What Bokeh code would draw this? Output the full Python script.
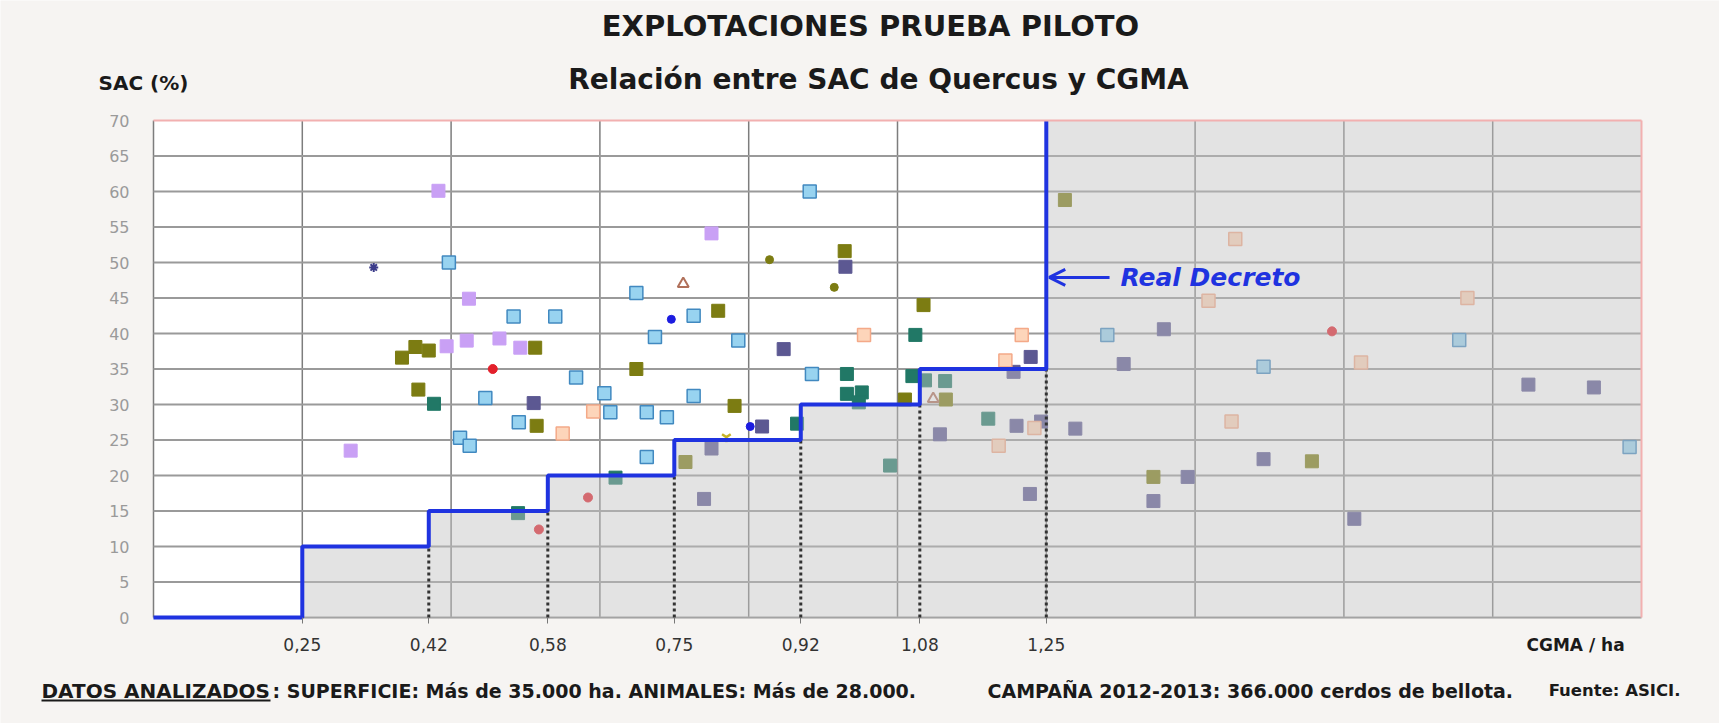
from bokeh.plotting import figure
from bokeh.models import Label, Arrow, OpenHead, FixedTicker, Range1d
from bokeh.embed import file_html
from bokeh.resources import INLINE

# ---------------- data ----------------
step_x = [0.05, 0.25, 0.42, 0.58, 0.75, 0.92, 1.08, 1.25]
step_y = [0, 10, 15, 20, 25, 30, 35, 70]
x_ticks = [0.25, 0.42, 0.58, 0.75, 0.92, 1.08, 1.25]
x_tick_labels = ["0,25", "0,42", "0,58", "0,75", "0,92", "1,08", "1,25"]
y_ticks = [0, 5, 10, 15, 20, 25, 30, 35, 40, 45, 50, 55, 60, 65, 70]

lightblue_x = [0.447, 0.534, 0.590, 0.496, 0.462, 0.475, 0.541, 0.932, 0.699, 0.776, 0.724, 0.836,
               0.618, 0.935, 0.656, 0.664, 0.713, 0.740, 0.776, 0.713, 1.332, 1.542, 1.805, 2.034]
lightblue_y = [50.0, 42.4, 42.4, 30.9, 25.3, 24.2, 27.5, 60.0, 45.7, 42.5, 39.5, 39.0,
               33.8, 34.3, 31.6, 28.9, 28.9, 28.2, 31.2, 22.6, 39.8, 35.3, 39.1, 24.0]

olive_x = [0.384, 0.402, 0.420, 0.406, 0.979, 0.809, 0.563, 0.699, 0.831, 0.565, 0.765,
           1.275, 1.085, 1.060, 1.115, 1.394, 1.607]
olive_y = [36.6, 38.1, 37.6, 32.1, 51.6, 43.2, 38.0, 35.0, 29.8, 27.0, 21.9,
           58.8, 44.0, 30.7, 30.7, 19.8, 22.0]

lilac_x = [0.433, 0.474, 0.444, 0.471, 0.515, 0.543, 0.315, 0.800]
lilac_y = [60.1, 44.9, 38.2, 39.0, 39.3, 38.0, 23.5, 54.1]

slate_x = [0.980, 0.897, 0.561, 0.868, 0.800, 0.790, 1.408, 1.229, 1.354, 1.206, 1.210, 1.243,
           1.107, 1.289, 1.228, 1.542, 1.440, 1.394, 1.898, 1.986, 1.664]
slate_y = [49.4, 37.8, 30.2, 26.9, 23.8, 16.7, 40.6, 36.7, 35.7, 34.6, 27.0, 27.6,
           25.8, 26.6, 17.4, 22.3, 19.8, 16.4, 32.8, 32.4, 13.9]

teal_x = [0.427, 0.540, 0.982, 0.982, 1.002, 0.998, 1.040, 0.671, 0.915, 1.074, 1.070, 1.087, 1.114, 1.172]
teal_y = [30.1, 14.7, 34.3, 31.5, 31.7, 30.3, 21.4, 19.7, 27.3, 39.8, 34.0, 33.4, 33.3, 28.0]

salmon_x = [0.641, 0.600, 1.005, 1.217, 1.195, 1.234, 1.186, 1.504, 1.468, 1.499, 1.816, 1.673]
salmon_y = [29.0, 25.9, 39.8, 39.8, 36.2, 26.7, 24.2, 53.3, 44.6, 27.6, 45.0, 35.9]

red_x = [0.506, 0.634, 0.568, 1.634]
red_y = [35.0, 16.9, 12.4, 40.3]

blue_dot_x = [0.746, 0.852]
blue_dot_y = [42.0, 26.9]

olive_dot_x = [0.878, 0.965]
olive_dot_y = [50.4, 46.5]

triangle_x = [0.762, 1.098]
triangle_y = [47.0, 30.8]

star_x = [0.346]
star_y = [49.3]

yellow_x = [0.820]
yellow_y = [25.4]

grid_x = [0.05, 0.25, 0.45, 0.65, 0.85, 1.05, 1.25, 1.45, 1.65, 1.85]
grid_y = [0, 5, 10, 15, 20, 25, 30, 35, 40, 45, 50, 55, 60, 65]

decreto_y = 47.9
decreto_arrow_from = 1.335

# ---------------- layout helpers (page pixel -> data) ----------------
FL, FT, FW, FH = 153, 120, 1488, 497       # plot area in page pixels
XMIN, XMAX, YMIN, YMAX = 0.05, 2.05, 0, 70
W, H = 1719, 723


def X(px):
    return XMIN + (px - FL) * (XMAX - XMIN) / FW


def Y(py):
    return YMAX - (py - FT) * (YMAX - YMIN) / FH


BLUE = "#1f33e0"
PAGE = "#f6f4f2"

p = figure(width=W, height=H, min_border=0,
           x_range=Range1d(X(0), X(W)), y_range=Range1d(Y(H), Y(0)),
           output_backend="svg", toolbar_location=None, title=None,
           background_fill_color=PAGE, border_fill_color=PAGE)
p.outline_line_color = None
p.grid.visible = False

# plot area
p.quad(left=[XMIN], right=[XMAX], bottom=[YMIN], top=[YMAX], fill_color="white", line_color=None)
p.segment(x0=grid_x, y0=[YMIN] * len(grid_x), x1=grid_x, y1=[YMAX] * len(grid_x),
          line_color="#7d7d7d", line_width=1.5)
p.segment(x0=[XMIN] * len(grid_y), y0=grid_y, x1=[XMAX] * len(grid_y), y1=grid_y,
          line_color="#9a9a9a", line_width=2)

# axes (drawn at fixed locations)
p.yaxis.fixed_location = XMIN
p.yaxis.bounds = (YMIN, YMAX)
p.yaxis.ticker = FixedTicker(ticks=y_ticks)
p.yaxis.axis_line_color = None
p.yaxis.major_tick_line_color = None
p.yaxis.minor_tick_line_color = None
p.yaxis.major_label_text_color = "#9a9a9a"
p.yaxis.major_label_text_font = "DejaVu Sans"
p.yaxis.major_label_text_font_size = "16px"
p.yaxis.major_label_standoff = 18

p.xaxis.fixed_location = YMIN
p.xaxis.bounds = (XMIN, XMAX)
p.xaxis.ticker = FixedTicker(ticks=x_ticks)
p.xaxis.major_label_overrides = dict(zip(x_ticks, x_tick_labels))
p.xaxis.axis_line_color = None
p.xaxis.major_tick_line_color = "#777777"
p.xaxis.major_tick_in = 0
p.xaxis.major_tick_out = 6
p.xaxis.minor_tick_line_color = None
p.xaxis.major_label_text_color = "#333333"
p.xaxis.major_label_text_font = "DejaVu Sans"
p.xaxis.major_label_text_font_size = "17px"
p.xaxis.major_label_standoff = 14

# markers
sq = dict(marker="square", size=13)
p.scatter(lightblue_x, lightblue_y, fill_color="#98d3f0", line_color="#4189c0", line_width=1.5, **sq)
p.scatter(olive_x, olive_y, fill_color="#7c7c12", line_color="#7c7c12", **sq)
p.scatter(lilac_x, lilac_y, fill_color="#c9a0f5", line_color="#c9a0f5", **sq)
p.scatter(slate_x, slate_y, fill_color="#5c5892", line_color="#5c5892", **sq)
p.scatter(teal_x, teal_y, fill_color="#217866", line_color="#217866", **sq)
p.scatter(salmon_x, salmon_y, fill_color="#fdd5ba", line_color="#f4a988", line_width=1.5, **sq)
p.scatter(red_x, red_y, marker="circle", size=9, fill_color="#e3202b", line_color="#e3202b")
p.scatter(blue_dot_x, blue_dot_y, marker="circle", size=8, fill_color="#1c1ce0", line_color="#1c1ce0")
p.scatter(olive_dot_x, olive_dot_y, marker="circle", size=8, fill_color="#7c7c12", line_color="#7c7c12")
p.scatter(triangle_x, triangle_y, marker="triangle", size=11, fill_color=None, line_color="#b0705a", line_width=2)
p.scatter(star_x, star_y, marker="asterisk", size=9, line_color="#3c3c8a", line_width=2)
p.scatter(yellow_x, yellow_y, marker="y", size=10, line_color="#c8b428", line_width=2.5)

# shaded (semi-transparent) region under the step curve and right of 1,25
poly_x = [step_x[0]]
poly_y = [0]
for i in range(len(step_x) - 1):
    poly_x += [step_x[i], step_x[i + 1]]
    poly_y += [step_y[i], step_y[i]]
poly_x += [step_x[-1], XMAX, XMAX]
poly_y += [step_y[-1], YMAX, 0]
p.patch(poly_x, poly_y, fill_color="#c2c2c2", fill_alpha=0.46, line_color=None)

# dotted verticals and step line
p.segment(x0=step_x[2:], y0=[0] * len(step_x[2:]), x1=step_x[2:], y1=step_y[1:-1],
          line_color="#333333", line_width=3, line_dash="3 3")
p.step(step_x, step_y, mode="after", line_color=BLUE, line_width=4)

# pink top / right borders
p.segment(x0=[XMIN, XMAX], y0=[YMAX, YMIN], x1=[XMAX, XMAX], y1=[YMAX, YMAX],
          line_color="#f2b0b0", line_width=2)

# Real Decreto annotation
p.add_layout(Arrow(x_start=decreto_arrow_from, y_start=decreto_y, x_end=step_x[-1] + 0.004, y_end=decreto_y,
                   line_color=BLUE, line_width=3,
                   end=OpenHead(size=16, line_color=BLUE, line_width=3)))
p.add_layout(Label(x=X(1120), y=decreto_y, text="Real Decreto", text_font="DejaVu Sans",
                   text_font_style="bold italic", text_font_size="25px", text_color=BLUE,
                   text_baseline="middle"))


# titles & texts
def lab(px, py, text, size, align="left", style="bold", color="#1a1a1a"):
    p.add_layout(Label(x=X(px), y=Y(py), text=text, text_font="DejaVu Sans", text_font_style=style,
                       text_font_size=size, text_color=color, text_align=align, text_baseline="middle"))


lab(870, 25, "EXPLOTACIONES PRUEBA PILOTO", "29px", align="center")
lab(878, 79, "Relación entre SAC de Quercus y CGMA", "28px", align="center")
lab(98, 82, "SAC (%)", "20px")
lab(1526, 644, "CGMA / ha", "17px")
lab(41, 690, "DATOS ANALIZADOS", "20px")
lab(272, 690, ":  SUPERFICIE: Más de 35.000 ha.  ANIMALES: Más de 28.000.", "19px")
lab(987, 690, "CAMPAÑA 2012-2013: 366.000 cerdos de bellota.", "19px")
lab(1680, 690, "Fuente: ASICI.", "16.5px", align="right")
p.add_layout(Arrow(x_start=X(41), y_start=Y(700), x_end=X(270), y_end=Y(700), end=None,
                   line_color="#1a1a1a", line_width=2))

open("out.html", "w").write(file_html(p, INLINE))
